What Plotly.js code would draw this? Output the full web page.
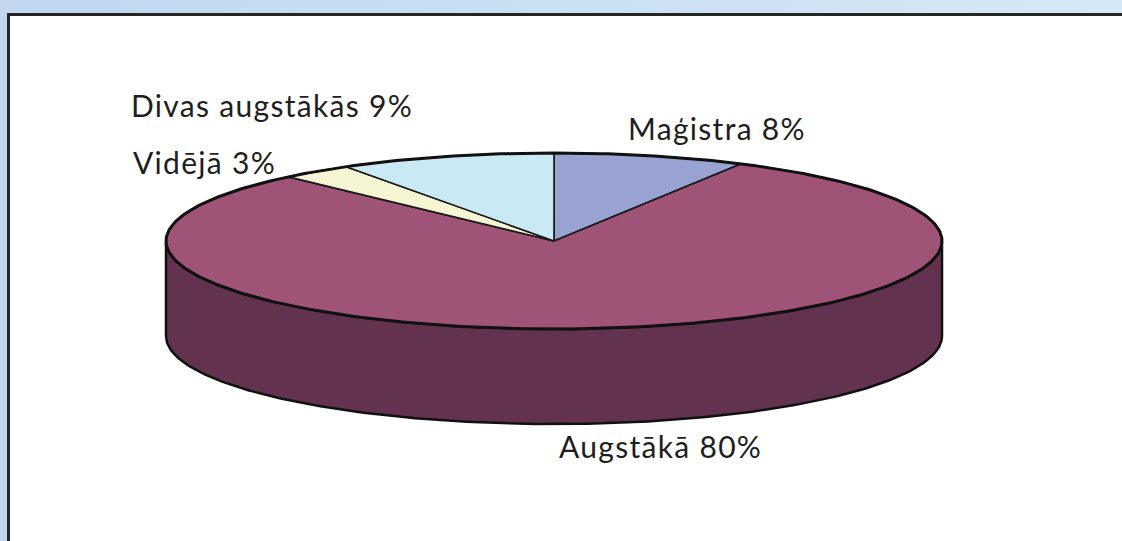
<!DOCTYPE html>
<html>
<head>
<meta charset="utf-8">
<script src="https://cdn.plot.ly/plotly-3.0.1.min.js"></script>
<style>
  html, body { margin: 0; padding: 0; overflow: hidden; }
  body { width: 1122px; height: 541px; position: relative;
         background: linear-gradient(to right, #c2d7ee 0%, #cadff2 50%, #d6e8f6 100%); }
  #panel { position: absolute; left: 7px; top: 12.5px; width: 1200px; height: 600px;
           background: #ffffff; border-left: 3px solid #262626; border-top: 3px solid #262626; }
  #chart { position: absolute; left: 0; top: 0; width: 1122px; height: 541px; }
  .annotation-text { letter-spacing: 1.3px; }
</style>
</head>
<body>
<div id="panel"></div>
<div id="chart"></div>
<script>
// ---- data ----
const labels = ['Maģistra', 'Augstākā', 'Vidējā', 'Divas augstākās'];
const values = [8, 80, 3, 9];
const colors = ['#99a3d2', '#9f5377', '#f5f5d3', '#c9e9f5'];
const sideColors = ['#5f6790', '#62324e', '#a9a98f', '#8aa3ac'];

// ---- geometry (layout constants, pixel space) ----
const CX = 554, CY = 241, RX = 388, RY = 88, DEPTH = 95;
function pt(tDeg, dy) {
  const t = tDeg * Math.PI / 180;
  return [CX + RX * Math.sin(t), CY - RY * Math.cos(t) + (dy || 0)];
}
function arc(t0, t1, dy) {
  const n = Math.max(2, Math.ceil(Math.abs(t1 - t0)));
  const xs = [], ys = [];
  for (let i = 0; i <= n; i++) {
    const p = pt(t0 + (t1 - t0) * i / n, dy);
    xs.push(p[0]); ys.push(p[1]);
  }
  return [xs, ys];
}

const total = values.reduce((a, b) => a + b, 0);
const starts = [], ends = [];
let acc = 0;
values.forEach(v => { starts.push(acc / total * 360); acc += v; ends.push(acc / total * 360); });

const traces = [];
// side walls (front half only: 90..270 deg)
values.forEach((v, i) => {
  const s = Math.max(starts[i], 90), e = Math.min(ends[i], 270);
  if (s < e) {
    const top = arc(s, e, 0), bot = arc(e, s, DEPTH);
    traces.push({
      type: 'scatter', mode: 'lines', fill: 'toself',
      x: top[0].concat(bot[0], [top[0][0]]),
      y: top[1].concat(bot[1], [top[1][0]]),
      fillcolor: sideColors[i], line: { color: '#111', width: 2.5 },
      hoverinfo: 'skip'
    });
  }
});
// top wedges
values.forEach((v, i) => {
  const a = arc(starts[i], ends[i], 0);
  traces.push({
    type: 'scatter', mode: 'lines', fill: 'toself',
    x: [CX].concat(a[0], [CX]),
    y: [CY].concat(a[1], [CY]),
    fillcolor: colors[i], line: { color: '#1a1a1a', width: 1.6 },
    hoverinfo: 'skip', name: labels[i]
  });
});
// outer rim of top face
const rim = arc(0, 360, 0);
traces.push({ type: 'scatter', mode: 'lines', x: rim[0], y: rim[1],
  line: { color: '#111', width: 3 }, hoverinfo: 'skip' });

// labels
const labelPos = [[717, 128], [660, 446], [204, 162], [272, 105]];
const annotations = values.map((v, i) => ({
  x: labelPos[i][0], y: labelPos[i][1], xref: 'x', yref: 'y',
  text: labels[i] + ' ' + Math.round(v / total * 100) + '%',
  showarrow: false, xanchor: 'center', yanchor: 'middle',
  font: { family: 'Lato, "DejaVu Sans", sans-serif', size: 30, color: '#1e1e1e' }
}));

const layout = {
  width: 1122, height: 541,
  margin: { l: 0, r: 0, t: 0, b: 0 },
  paper_bgcolor: 'rgba(0,0,0,0)', plot_bgcolor: 'rgba(0,0,0,0)',
  showlegend: false,
  xaxis: { range: [0, 1122], visible: false, fixedrange: true },
  yaxis: { range: [541, 0], visible: false, fixedrange: true },
  annotations: annotations
};
Plotly.newPlot('chart', traces, layout, { staticPlot: true, displayModeBar: false });
</script>
</body>
</html>
